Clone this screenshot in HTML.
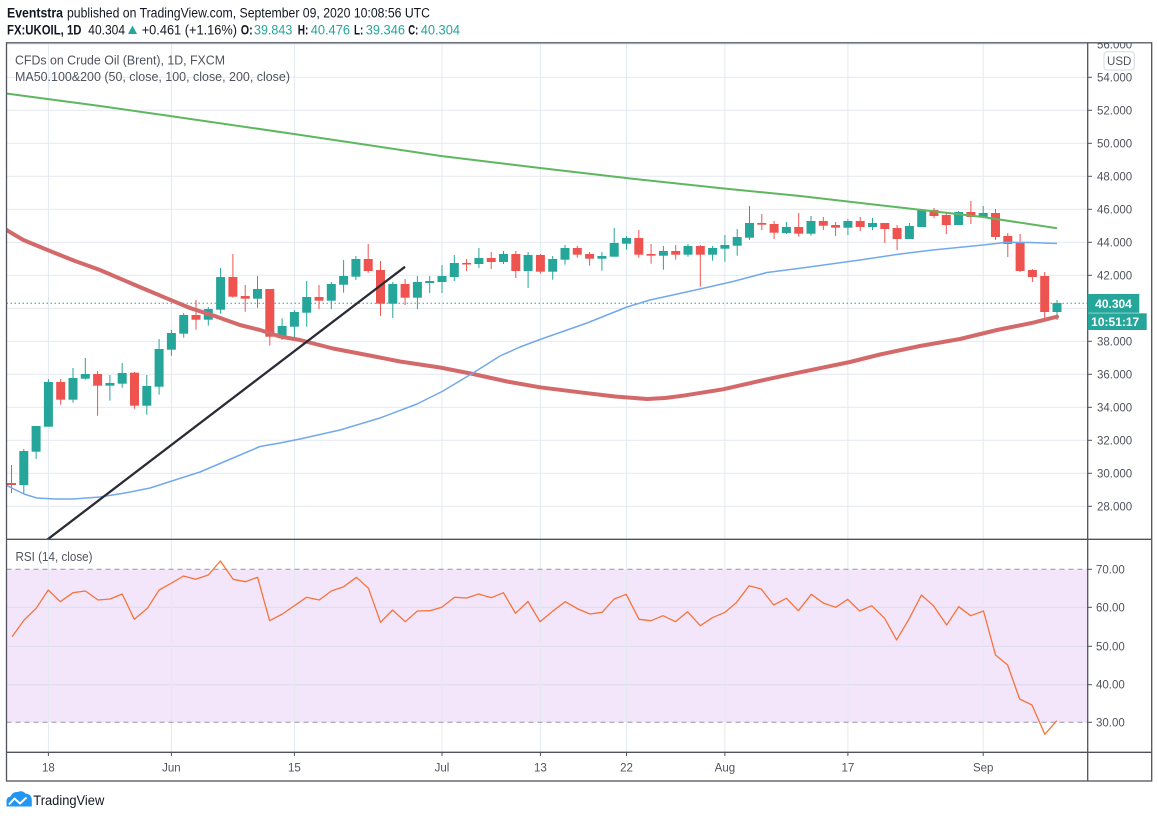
<!DOCTYPE html>
<html><head><meta charset="utf-8"><style>
html,body{margin:0;padding:0;background:#fff;}
svg{display:block;}
text{font-family:"Liberation Sans",sans-serif;}
</style></head><body>
<svg width="1158" height="818" viewBox="0 0 1158 818" xmlns="http://www.w3.org/2000/svg">
<rect width="1158" height="818" fill="#fff"/>
<defs>
<clipPath id="cm"><rect x="6.5" y="42.5" width="1081" height="496.8"/></clipPath>
<clipPath id="cr"><rect x="6.5" y="539.3" width="1081" height="213"/></clipPath>
<clipPath id="ca"><rect x="1088" y="43" width="64" height="500"/></clipPath>
</defs>

<!-- header -->
<text x="7" y="17.3" font-size="13.5" font-weight="bold" fill="#131722" textLength="56" lengthAdjust="spacingAndGlyphs">Eventstra</text>
<text x="67" y="17.3" font-size="13.5" fill="#131722" textLength="363" lengthAdjust="spacingAndGlyphs">published on TradingView.com, September 09, 2020 10:08:56 UTC</text>
<text x="7" y="34.3" font-size="13.5" font-weight="bold" fill="#131722" textLength="74.5" lengthAdjust="spacingAndGlyphs">FX:UKOIL, 1D</text>
<text x="88.3" y="34.3" font-size="13.5" fill="#131722" textLength="36.7" lengthAdjust="spacingAndGlyphs">40.304</text>
<polygon points="128,34 137,34 132.5,25.5" fill="#26a69a"/>
<text x="141.7" y="34.3" font-size="13.5" fill="#131722" textLength="95.3" lengthAdjust="spacingAndGlyphs">+0.461 (+1.16%)</text>
<text x="240.7" y="34.3" font-size="13.5" font-weight="bold" fill="#131722" textLength="12" lengthAdjust="spacingAndGlyphs">O:</text>
<text x="254" y="34.3" font-size="13.5" fill="#26a69a" textLength="38.3" lengthAdjust="spacingAndGlyphs">39.843</text>
<text x="297.7" y="34.3" font-size="13.5" font-weight="bold" fill="#131722" textLength="10.6" lengthAdjust="spacingAndGlyphs">H:</text>
<text x="310.7" y="34.3" font-size="13.5" fill="#26a69a" textLength="39.3" lengthAdjust="spacingAndGlyphs">40.476</text>
<text x="354" y="34.3" font-size="13.5" font-weight="bold" fill="#131722" textLength="9.3" lengthAdjust="spacingAndGlyphs">L:</text>
<text x="365.7" y="34.3" font-size="13.5" fill="#26a69a" textLength="39.3" lengthAdjust="spacingAndGlyphs">39.346</text>
<text x="408.3" y="34.3" font-size="13.5" font-weight="bold" fill="#131722" textLength="10" lengthAdjust="spacingAndGlyphs">C:</text>
<text x="420.7" y="34.3" font-size="13.5" fill="#26a69a" textLength="39.3" lengthAdjust="spacingAndGlyphs">40.304</text>

<!-- gridlines -->
<g stroke="#e3e9f0" stroke-width="1">
<line x1="6.5" x2="1087.7" y1="44.3" y2="44.3"/>
<line x1="6.5" x2="1087.7" y1="77.3" y2="77.3"/>
<line x1="6.5" x2="1087.7" y1="110.3" y2="110.3"/>
<line x1="6.5" x2="1087.7" y1="143.3" y2="143.3"/>
<line x1="6.5" x2="1087.7" y1="176.3" y2="176.3"/>
<line x1="6.5" x2="1087.7" y1="209.3" y2="209.3"/>
<line x1="6.5" x2="1087.7" y1="242.3" y2="242.3"/>
<line x1="6.5" x2="1087.7" y1="275.3" y2="275.3"/>
<line x1="6.5" x2="1087.7" y1="308.3" y2="308.3"/>
<line x1="6.5" x2="1087.7" y1="341.3" y2="341.3"/>
<line x1="6.5" x2="1087.7" y1="374.3" y2="374.3"/>
<line x1="6.5" x2="1087.7" y1="407.3" y2="407.3"/>
<line x1="6.5" x2="1087.7" y1="440.3" y2="440.3"/>
<line x1="6.5" x2="1087.7" y1="473.3" y2="473.3"/>
<line x1="6.5" x2="1087.7" y1="506.3" y2="506.3"/>
</g>

<!-- RSI band -->
<rect x="6.5" y="569.3" width="1081.2" height="153" fill="#f3e6fb"/>
<g stroke="#dcdcee" stroke-width="1">
<line x1="6.5" x2="1087.7" y1="607.3" y2="607.3"/>
<line x1="6.5" x2="1087.7" y1="646.3" y2="646.3"/>
<line x1="6.5" x2="1087.7" y1="684.7" y2="684.7"/>
</g>

<g stroke="#e3e9f0" stroke-width="1">
<line x1="48.4" x2="48.4" y1="42.5" y2="752.3"/>
<line x1="171.4" x2="171.4" y1="42.5" y2="752.3"/>
<line x1="294.4" x2="294.4" y1="42.5" y2="752.3"/>
<line x1="442" x2="442" y1="42.5" y2="752.3"/>
<line x1="540.4" x2="540.4" y1="42.5" y2="752.3"/>
<line x1="626.5" x2="626.5" y1="42.5" y2="752.3"/>
<line x1="724.9" x2="724.9" y1="42.5" y2="752.3"/>
<line x1="847.9" x2="847.9" y1="42.5" y2="752.3"/>
<line x1="983.2" x2="983.2" y1="42.5" y2="752.3"/>
</g>
<g stroke="#9a94a8" stroke-width="1" stroke-dasharray="5,4">
<line x1="6.5" x2="1087.7" y1="569.3" y2="569.3"/>
<line x1="6.5" x2="1087.7" y1="722.3" y2="722.3"/>
</g>

<!-- main pane -->
<g clip-path="url(#cm)">
<g fill="#26a69a">
<rect x="23.3" y="449" width="1" height="44.3"/><rect x="19.3" y="451" width="9" height="34"/>
<rect x="35.6" y="426" width="1" height="33"/><rect x="31.6" y="426" width="9" height="25.7"/>
<rect x="47.9" y="379" width="1" height="47.7"/><rect x="43.9" y="382" width="9" height="44.7"/>
<rect x="72.5" y="368" width="1" height="34.7"/><rect x="68.5" y="378" width="9" height="21.7"/>
<rect x="84.8" y="358" width="1" height="21.7"/><rect x="80.8" y="374" width="9" height="4.7"/>
<rect x="109.4" y="375" width="1" height="25.7"/><rect x="105.4" y="383" width="9" height="2.7"/>
<rect x="121.7" y="363" width="1" height="24.7"/><rect x="117.7" y="373" width="9" height="10.7"/>
<rect x="146.3" y="375" width="1" height="39.7"/><rect x="142.3" y="386" width="9" height="19.7"/>
<rect x="158.6" y="339" width="1" height="55.7"/><rect x="154.6" y="349" width="9" height="37.7"/>
<rect x="170.9" y="330" width="1" height="25.7"/><rect x="166.9" y="333" width="9" height="16.7"/>
<rect x="183.2" y="313" width="1" height="24.7"/><rect x="179.2" y="315" width="9" height="18.7"/>
<rect x="207.8" y="307" width="1" height="18.7"/><rect x="203.8" y="309" width="9" height="10.7"/>
<rect x="220.1" y="268" width="1" height="45.7"/><rect x="216.1" y="277" width="9" height="32.7"/>
<rect x="257" y="276" width="1" height="31.7"/><rect x="253" y="289" width="9" height="9.7"/>
<rect x="281.6" y="318.3" width="1" height="21.7"/><rect x="277.6" y="326" width="9" height="10.7"/>
<rect x="293.9" y="310" width="1" height="30"/><rect x="289.9" y="312" width="9" height="14.7"/>
<rect x="306.2" y="281" width="1" height="45.7"/><rect x="302.2" y="297" width="9" height="15.7"/>
<rect x="330.8" y="282" width="1" height="27"/><rect x="326.8" y="284" width="9" height="16.7"/>
<rect x="343.1" y="260" width="1" height="32.7"/><rect x="339.1" y="276" width="9" height="8.7"/>
<rect x="355.4" y="256" width="1" height="24"/><rect x="351.4" y="259" width="9" height="17.7"/>
<rect x="392.3" y="282" width="1" height="36"/><rect x="388.3" y="284" width="9" height="19.7"/>
<rect x="416.9" y="276" width="1" height="33"/><rect x="412.9" y="282" width="9" height="15.7"/>
<rect x="429.2" y="276" width="1" height="17"/><rect x="425.2" y="281" width="9" height="2"/>
<rect x="441.5" y="265" width="1" height="28"/><rect x="437.5" y="276" width="9" height="6"/>
<rect x="453.8" y="255" width="1" height="26"/><rect x="449.8" y="263" width="9" height="14"/>
<rect x="478.4" y="248" width="1" height="20"/><rect x="474.4" y="258" width="9" height="6"/>
<rect x="503" y="251" width="1" height="13"/><rect x="499" y="254" width="9" height="8"/>
<rect x="527.6" y="252" width="1" height="36"/><rect x="523.6" y="255" width="9" height="16"/>
<rect x="552.2" y="256" width="1" height="23.7"/><rect x="548.2" y="259" width="9" height="12.7"/>
<rect x="564.5" y="245" width="1" height="19.7"/><rect x="560.5" y="248" width="9" height="11.7"/>
<rect x="601.4" y="252" width="1" height="18.7"/><rect x="597.4" y="256" width="9" height="2.7"/>
<rect x="613.7" y="228" width="1" height="28.7"/><rect x="609.7" y="243" width="9" height="13.7"/>
<rect x="626" y="236" width="1" height="13.7"/><rect x="622" y="238" width="9" height="5.7"/>
<rect x="662.9" y="246" width="1" height="23.7"/><rect x="658.9" y="251" width="9" height="4.7"/>
<rect x="687.5" y="244" width="1" height="12.7"/><rect x="683.5" y="246" width="9" height="8.7"/>
<rect x="712.1" y="246" width="1" height="14.7"/><rect x="708.1" y="248" width="9" height="6.7"/>
<rect x="724.4" y="235" width="1" height="26.7"/><rect x="720.4" y="245" width="9" height="3.7"/>
<rect x="736.7" y="229" width="1" height="26.7"/><rect x="732.7" y="237" width="9" height="8.7"/>
<rect x="749" y="206" width="1" height="34"/><rect x="745" y="223" width="9" height="14.7"/>
<rect x="785.9" y="222" width="1" height="12"/><rect x="781.9" y="227" width="9" height="6"/>
<rect x="810.5" y="216" width="1" height="19.7"/><rect x="806.5" y="221" width="9" height="12.7"/>
<rect x="847.4" y="219" width="1" height="16"/><rect x="843.4" y="221" width="9" height="6.7"/>
<rect x="872" y="218" width="1" height="12"/><rect x="868" y="223" width="9" height="4"/>
<rect x="908.9" y="223" width="1" height="16"/><rect x="904.9" y="226" width="9" height="13"/>
<rect x="921.2" y="209" width="1" height="18"/><rect x="917.2" y="210" width="9" height="17"/>
<rect x="958.1" y="211" width="1" height="14"/><rect x="954.1" y="212" width="9" height="13"/>
<rect x="982.7" y="206" width="1" height="12"/><rect x="978.7" y="213" width="9" height="4"/>
<rect x="1056.5" y="300" width="1" height="20"/><rect x="1052.5" y="303" width="9" height="9"/>
</g>
<g fill="#ef5350">
<rect x="11" y="465" width="1" height="28"/><rect x="7" y="483" width="9" height="2"/>
<rect x="60.2" y="379" width="1" height="25.7"/><rect x="56.2" y="382" width="9" height="17.7"/>
<rect x="97.1" y="371" width="1" height="44.7"/><rect x="93.1" y="374" width="9" height="11.7"/>
<rect x="134" y="372" width="1" height="36.7"/><rect x="130" y="372.7" width="9" height="33"/>
<rect x="195.5" y="300" width="1" height="29.7"/><rect x="191.5" y="315" width="9" height="4.7"/>
<rect x="232.4" y="254" width="1" height="43.7"/><rect x="228.4" y="277" width="9" height="19.7"/>
<rect x="244.7" y="285" width="1" height="26.7"/><rect x="240.7" y="296" width="9" height="2.7"/>
<rect x="269.3" y="289" width="1" height="56.7"/><rect x="265.3" y="289" width="9" height="47.7"/>
<rect x="318.5" y="285" width="1" height="24"/><rect x="314.5" y="297" width="9" height="3.7"/>
<rect x="367.7" y="244" width="1" height="28.7"/><rect x="363.7" y="259" width="9" height="12"/>
<rect x="380" y="261" width="1" height="55"/><rect x="376" y="270" width="9" height="33.7"/>
<rect x="404.6" y="279" width="1" height="26"/><rect x="400.6" y="284" width="9" height="13.7"/>
<rect x="466.1" y="259" width="1" height="12"/><rect x="462.1" y="263" width="9" height="1.5"/>
<rect x="490.7" y="252" width="1" height="17"/><rect x="486.7" y="258" width="9" height="4"/>
<rect x="515.3" y="251" width="1" height="27"/><rect x="511.3" y="254" width="9" height="17"/>
<rect x="539.9" y="254" width="1" height="19.7"/><rect x="535.9" y="255" width="9" height="16.7"/>
<rect x="576.8" y="246" width="1" height="11.7"/><rect x="572.8" y="248" width="9" height="6.7"/>
<rect x="589.1" y="252" width="1" height="13.7"/><rect x="585.1" y="254" width="9" height="4.7"/>
<rect x="638.3" y="230" width="1" height="27.7"/><rect x="634.3" y="238" width="9" height="16.7"/>
<rect x="650.6" y="244" width="1" height="19.7"/><rect x="646.6" y="254" width="9" height="1.7"/>
<rect x="675.2" y="245" width="1" height="14.7"/><rect x="671.2" y="251" width="9" height="3.7"/>
<rect x="699.8" y="245" width="1" height="41.7"/><rect x="695.8" y="246" width="9" height="8.7"/>
<rect x="761.3" y="214" width="1" height="16"/><rect x="757.3" y="223" width="9" height="1.7"/>
<rect x="773.6" y="221" width="1" height="18"/><rect x="769.6" y="224" width="9" height="8.7"/>
<rect x="798.2" y="213" width="1" height="23.7"/><rect x="794.2" y="227" width="9" height="6.7"/>
<rect x="822.8" y="217" width="1" height="13"/><rect x="818.8" y="221" width="9" height="4.7"/>
<rect x="835.1" y="222" width="1" height="14"/><rect x="831.1" y="225" width="9" height="2.7"/>
<rect x="859.7" y="217" width="1" height="14"/><rect x="855.7" y="221" width="9" height="6"/>
<rect x="884.3" y="223" width="1" height="20"/><rect x="880.3" y="223" width="9" height="6"/>
<rect x="896.6" y="225" width="1" height="25"/><rect x="892.6" y="228" width="9" height="11"/>
<rect x="933.5" y="208" width="1" height="10"/><rect x="929.5" y="210" width="9" height="6"/>
<rect x="945.8" y="212" width="1" height="22"/><rect x="941.8" y="215" width="9" height="10"/>
<rect x="970.4" y="201" width="1" height="23"/><rect x="966.4" y="212" width="9" height="5"/>
<rect x="995" y="209" width="1" height="31"/><rect x="991" y="213" width="9" height="24"/>
<rect x="1007.3" y="233" width="1" height="24"/><rect x="1003.3" y="236" width="9" height="8"/>
<rect x="1019.6" y="234" width="1" height="38"/><rect x="1015.6" y="243" width="9" height="28"/>
<rect x="1031.9" y="269" width="1" height="13"/><rect x="1027.9" y="270" width="9" height="7"/>
<rect x="1044.2" y="272" width="1" height="48"/><rect x="1040.2" y="276" width="9" height="36"/>
</g>

<line x1="6.5" x2="1087.7" y1="303.3" y2="303.3" stroke="#26a69a" stroke-width="1" stroke-dasharray="1.5,2.5"/>

<polyline fill="none" stroke="#5db760" stroke-width="2" stroke-linejoin="round" points="6,93.5 10,94 100,106 170,116 294,134 441,156 540,168 626,178 724,188.5 800,196 900,207.5 983,217 1057,228.3"/>
<polyline fill="none" stroke="#d4696a" stroke-width="4" stroke-linejoin="round" stroke-linecap="round" points="6,229.5 11.5,233 23.3,240 50,251 75,261 100,270 135,285 166.7,298.3 190,308 216.7,316.7 240,325 260,330 280,336.5 300,340 333,348.5 367,355 400,361.5 440,367.5 473,374 507,381.5 540,387.3 583,392.7 615,396.5 647,399 665,398 683,395.7 723,389.3 767,379.3 800,372.3 850,362 880,354.5 920,346 960,339 997,330 1033,322.7 1057,316.7"/>
<polyline fill="none" stroke="#72a9ec" stroke-width="1.5" stroke-linejoin="round" points="6,485 11.7,488 24,494 36.7,498 55,499 73,499 100,497 125,493 150,488 175,480 200,472 233,458 260,446.5 280,443 300,439 340,430 380,418 417,404 443,391 473,373 500,356 520,347 540,339.5 587,323 627,307 650,300 700,289 733,281.5 767,272.5 800,268.3 860,260 900,254 933,250 983,245 1007,242.3 1030,242.5 1057,243.5"/>
<line x1="47.7" y1="539.3" x2="404.3" y2="267.3" stroke="#2b2b35" stroke-width="2.3" stroke-linecap="round"/>
</g>

<g clip-path="url(#cr)">
<polyline fill="none" stroke="#f7743a" stroke-width="1.3" stroke-linejoin="round" points="12.1,636.7 24.1,620 36.2,608.3 48.2,590 60.3,601.7 73,592.7 85.4,591 98.1,600 110.2,599 122.2,594 134.3,619.3 147.4,608.3 159.1,590 171.1,583.3 183.5,576 195.6,579.3 208.3,575 220.4,561 233.1,579.3 245.2,581.7 257.6,577.3 269.6,620.7 282.4,614 294.4,605.7 306.5,597.3 319.2,600 331.3,591 343.7,586.7 356.4,577.3 368.5,588.3 380.5,622.3 392.6,610 405.3,621.7 417.4,611 429.8,610.7 441.8,607.3 454.5,597.3 466.6,598 478.6,594 491.4,597.7 503.4,592.7 515.5,613.3 528,601.5 540,621.7 552,611.7 565.3,601.7 578,609 590,614 602.1,612.3 614.1,599 626.2,594.3 639,619.3 651,620.7 663,615.7 675.4,621.7 687.5,611.7 700.3,625.7 712.3,617.7 724.3,612.7 736.3,602.7 749.2,585.7 761.2,589 773.6,605 786.4,598.3 798.4,610.7 811.3,594.3 823.7,603.3 835.7,607.3 847.7,599.3 859.7,611 871.7,605.7 884.6,618.3 896.6,640 909.4,618.3 921.4,595 933.4,605.7 946.7,625 958.7,606.7 970.7,615.7 983.5,611 995.5,655 1007.6,665 1019.6,699 1032,705 1044.8,734.3 1056.8,720.7"/>
</g>

<text x="15" y="64.3" font-size="12.5" fill="#50535e" textLength="210" lengthAdjust="spacingAndGlyphs">CFDs on Crude Oil (Brent), 1D, FXCM</text>
<text x="15" y="81" font-size="12.5" fill="#50535e" textLength="275" lengthAdjust="spacingAndGlyphs">MA50.100&amp;200 (50, close, 100, close, 200, close)</text>
<text x="15.5" y="561" font-size="12.5" fill="#50535e" textLength="77" lengthAdjust="spacingAndGlyphs">RSI (14, close)</text>

<g stroke="#50535e" stroke-width="1.3" fill="none">
<rect x="6.5" y="42.8" width="1145.2" height="738.2"/>
<line x1="1087.7" y1="42.8" x2="1087.7" y2="781"/>
<line x1="6.5" y1="539.3" x2="1151.7" y2="539.3"/>
<line x1="6.5" y1="752.3" x2="1151.7" y2="752.3"/>
</g>

<g stroke="#50535e" stroke-width="1">
<line x1="1088" x2="1092" y1="77.3" y2="77.3"/>
<line x1="1088" x2="1092" y1="110.3" y2="110.3"/>
<line x1="1088" x2="1092" y1="143.3" y2="143.3"/>
<line x1="1088" x2="1092" y1="176.3" y2="176.3"/>
<line x1="1088" x2="1092" y1="209.3" y2="209.3"/>
<line x1="1088" x2="1092" y1="242.3" y2="242.3"/>
<line x1="1088" x2="1092" y1="275.3" y2="275.3"/>
<line x1="1088" x2="1092" y1="341.3" y2="341.3"/>
<line x1="1088" x2="1092" y1="374.3" y2="374.3"/>
<line x1="1088" x2="1092" y1="407.3" y2="407.3"/>
<line x1="1088" x2="1092" y1="440.3" y2="440.3"/>
<line x1="1088" x2="1092" y1="473.3" y2="473.3"/>
<line x1="1088" x2="1092" y1="506.3" y2="506.3"/>
<line x1="1088" x2="1092" y1="569.3" y2="569.3"/>
<line x1="1088" x2="1092" y1="607.3" y2="607.3"/>
<line x1="1088" x2="1092" y1="646.3" y2="646.3"/>
<line x1="1088" x2="1092" y1="684.7" y2="684.7"/>
<line x1="1088" x2="1092" y1="722.3" y2="722.3"/>
<line x1="48.4" x2="48.4" y1="752.3" y2="756"/>
<line x1="171.4" x2="171.4" y1="752.3" y2="756"/>
<line x1="294.4" x2="294.4" y1="752.3" y2="756"/>
<line x1="442" x2="442" y1="752.3" y2="756"/>
<line x1="540.4" x2="540.4" y1="752.3" y2="756"/>
<line x1="626.5" x2="626.5" y1="752.3" y2="756"/>
<line x1="724.9" x2="724.9" y1="752.3" y2="756"/>
<line x1="847.9" x2="847.9" y1="752.3" y2="756"/>
<line x1="983.2" x2="983.2" y1="752.3" y2="756"/>
</g>
<g font-size="11.5" fill="#50535e">
<g clip-path="url(#ca)"><text x="1097" y="48.3">56.000</text></g>
<text x="1097" y="81.3">54.000</text>
<text x="1097" y="114.3">52.000</text>
<text x="1097" y="147.3">50.000</text>
<text x="1097" y="180.3">48.000</text>
<text x="1097" y="213.3">46.000</text>
<text x="1097" y="246.3">44.000</text>
<text x="1097" y="279.3">42.000</text>
<text x="1097" y="345.3">38.000</text>
<text x="1097" y="378.3">36.000</text>
<text x="1097" y="411.3">34.000</text>
<text x="1097" y="444.3">32.000</text>
<text x="1097" y="477.3">30.000</text>
<text x="1097" y="510.3">28.000</text>
<text x="1096" y="573.3">70.00</text>
<text x="1096" y="611.3">60.00</text>
<text x="1096" y="650.3">50.00</text>
<text x="1096" y="688.7">40.00</text>
<text x="1096" y="726.3">30.00</text>
</g>
<rect x="1104" y="51.7" width="30.3" height="18.3" rx="3" fill="#fff" stroke="#d6d9e0" stroke-width="1"/>
<text x="1119.2" y="65" font-size="11.5" fill="#50535e" text-anchor="middle">USD</text>

<rect x="1087.7" y="294" width="51.6" height="18.8" fill="#26a69a"/>
<text x="1113.5" y="308" font-size="12" font-weight="bold" fill="#fff" text-anchor="middle">40.304</text>
<rect x="1087.7" y="313.3" width="59" height="16.7" fill="#26a69a"/>
<text x="1115.2" y="326" font-size="12" font-weight="bold" fill="#fff" text-anchor="middle">10:51:17</text>

<g font-size="11.5" fill="#50535e" text-anchor="middle">
<text x="48.4" y="771.5">18</text>
<text x="171.4" y="771.5">Jun</text>
<text x="294.4" y="771.5">15</text>
<text x="442" y="771.5">Jul</text>
<text x="540.4" y="771.5">13</text>
<text x="626.5" y="771.5">22</text>
<text x="724.9" y="771.5">Aug</text>
<text x="847.9" y="771.5">17</text>
<text x="983.2" y="771.5">Sep</text>
</g>

<path d="M6.5,806.5 L6.5,801 Q6.5,797 10.5,796.5 Q12.5,791.5 18,792 Q22,790 25.5,793.5 Q31.5,794 31.8,800 L31.8,806.5 Z" fill="#2196f3"/>
<polyline points="9,804.5 14.5,798.5 20,803.5 26.5,797.5" fill="none" stroke="#fff" stroke-width="2" stroke-linejoin="round"/>
<text x="33.3" y="805" font-size="13.5" fill="#131722" textLength="71" lengthAdjust="spacingAndGlyphs">TradingView</text>
</svg>
</body></html>
